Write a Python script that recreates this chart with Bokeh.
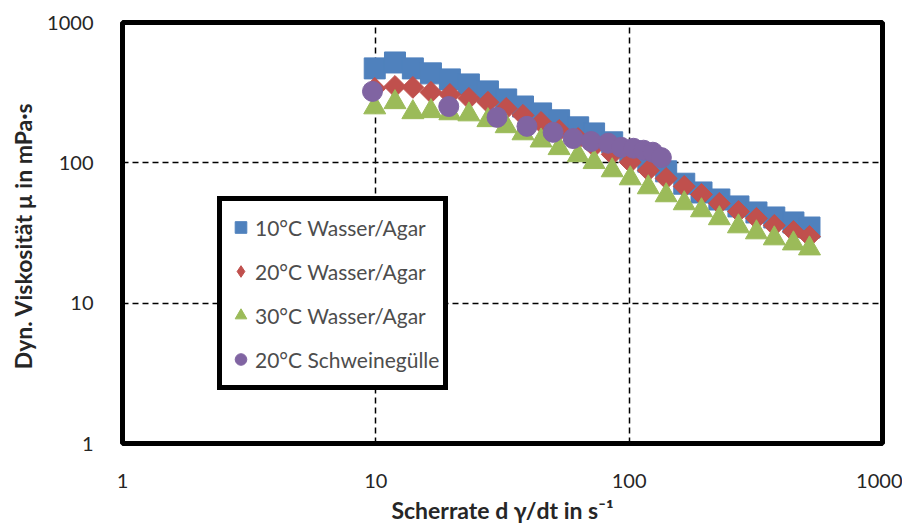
from bokeh.plotting import figure
from bokeh.models import Range1d, FixedTicker, Legend, LegendItem
from bokeh.embed import file_html
from bokeh.resources import INLINE

# ---------------- data ----------------
shear_rate = [9.9, 11.9, 14.0, 16.5, 19.6, 23.3, 27.7, 32.7, 38.1, 44.9, 52.9, 62.9, 72.7,
              85.7, 101, 119, 140, 165, 193, 227, 270, 318, 374, 445, 515]
visc_10C = [471, 519, 471, 434, 393, 362, 323, 283, 252, 225, 201, 179, 162,
            140, 121, 102, 87, 71, 61.5, 54.8, 48.9, 44.3, 40.8, 37.6, 34.6]
visc_20C = [339, 350, 345, 318, 307, 288, 270, 244, 218, 194, 170, 149, 131,
            115, 101, 88.3, 77.4, 67.9, 59.5, 51.4, 45.0, 40.2, 35.8, 32.4, 29.9]
visc_30C = [248, 270, 229, 233, 225, 221, 201, 182, 162, 144, 127, 113, 101,
            88.3, 77.4, 66.8, 58.6, 51.4, 45.8, 40.2, 35.2, 31.9, 28.9, 26.6, 24.5]
shear_rate_guelle = [9.7, 19.4, 30.1, 39.5, 50.1, 60.1, 70.8, 82.6, 93.0, 104, 114, 124, 134]
visc_guelle = [323, 252, 211, 182, 165, 149, 142, 138, 129, 127, 123, 119, 109]

series_labels = ["10°C Wasser/Agar", "20°C Wasser/Agar", "30°C Wasser/Agar", "20°C Schweinegülle"]
x_ticks = [1, 10, 100, 1000]
x_tick_labels = ["1", "10", "100", "1000"]
y_ticks = [1, 10, 100, 1000]
y_tick_labels = ["1", "10", "100", "1000"]
grid_ticks = [10, 100]
x_title = "Scherrate d γ/dt in s⁻¹"
y_title = "Dyn. Viskosität  µ in mPa·s"

FONT = "Lato"

p = figure(width=902, height=530, x_axis_type="log", y_axis_type="log",
           x_range=Range1d(1, 1000), y_range=Range1d(1, 1000),
           output_backend="svg", toolbar_location=None,
           min_border_left=122, min_border_right=20, min_border_top=22, min_border_bottom=87)

p.background_fill_color = "white"
p.border_fill_color = "white"
p.outline_line_color = "black"
p.outline_line_width = 5

# grid
for g, t in ((p.xgrid, grid_ticks), (p.ygrid, grid_ticks)):
    g.ticker = FixedTicker(ticks=t)
    g.grid_line_color = "black"
    g.grid_line_width = 1.5
    g.grid_line_dash = "6 4"
    g.minor_grid_line_color = None

# axes
p.xaxis.ticker = FixedTicker(ticks=x_ticks)
p.yaxis.ticker = FixedTicker(ticks=y_ticks)
p.xaxis.major_label_overrides = {float(t): l for t, l in zip(x_ticks, x_tick_labels)}
p.yaxis.major_label_overrides = {float(t): l for t, l in zip(y_ticks, y_tick_labels)}
for ax in (p.xaxis[0], p.yaxis[0]):
    ax.axis_line_color = None
    ax.major_tick_line_color = None
    ax.minor_tick_line_color = None
    ax.major_tick_out = 0
    ax.major_tick_in = 0
    ax.minor_tick_out = 0
    ax.minor_tick_in = 0
    ax.major_label_text_font = FONT
    ax.major_label_text_font_size = "20px"
    ax.major_label_text_color = "#262626"
    ax.axis_label_text_font = FONT
    ax.axis_label_text_font_style = "bold"
    ax.axis_label_text_font_size = "23px"
    ax.axis_label_text_color = "#262626"

p.xaxis.axis_label = x_title
p.yaxis.axis_label = y_title
p.xaxis.major_label_standoff = 30
p.xaxis.axis_label_standoff = 5
p.yaxis.major_label_standoff = 29
p.yaxis.axis_label_standoff = 7

# series (drawn in Excel order: blue, red, green, purple on top)
r1 = p.scatter(shear_rate, visc_10C, marker="square", size=21,
               fill_color="#4F81BD", line_color="#4F81BD")
r2 = p.scatter(shear_rate, visc_20C, marker="square", size=15.5, angle=0.785398,
               fill_color="#C0504D", line_color="#C0504D")
r3 = p.scatter(shear_rate, visc_30C, marker="triangle", size=22,
               fill_color="#9BBB59", line_color="#9BBB59")
r4 = p.scatter(shear_rate_guelle, visc_guelle, marker="circle", size=20,
               fill_color="#8064A2", line_color="#8064A2")
# hidden twin of the red series, only used for a diamond-shaped legend symbol
r2_leg = p.scatter(shear_rate, visc_20C, marker="diamond", size=20,
                   fill_color="#C0504D", line_color="#C0504D", visible=False)

legend = Legend(items=[LegendItem(label=l, renderers=[r]) for l, r in zip(series_labels, [r1, r2_leg, r3, r4])],
                location=(95, 53), orientation="vertical",
                border_line_color="black", border_line_width=5, border_line_alpha=1,
                background_fill_color="white", background_fill_alpha=1,
                label_text_font=FONT, label_text_font_size="21px", label_text_color="#4d4d4d",
                glyph_width=29, glyph_height=44, label_height=44, spacing=0,
                padding=4, margin=0, label_standoff=0, click_policy="none")
p.add_layout(legend)

open("out.html", "w").write(file_html(p, INLINE))
